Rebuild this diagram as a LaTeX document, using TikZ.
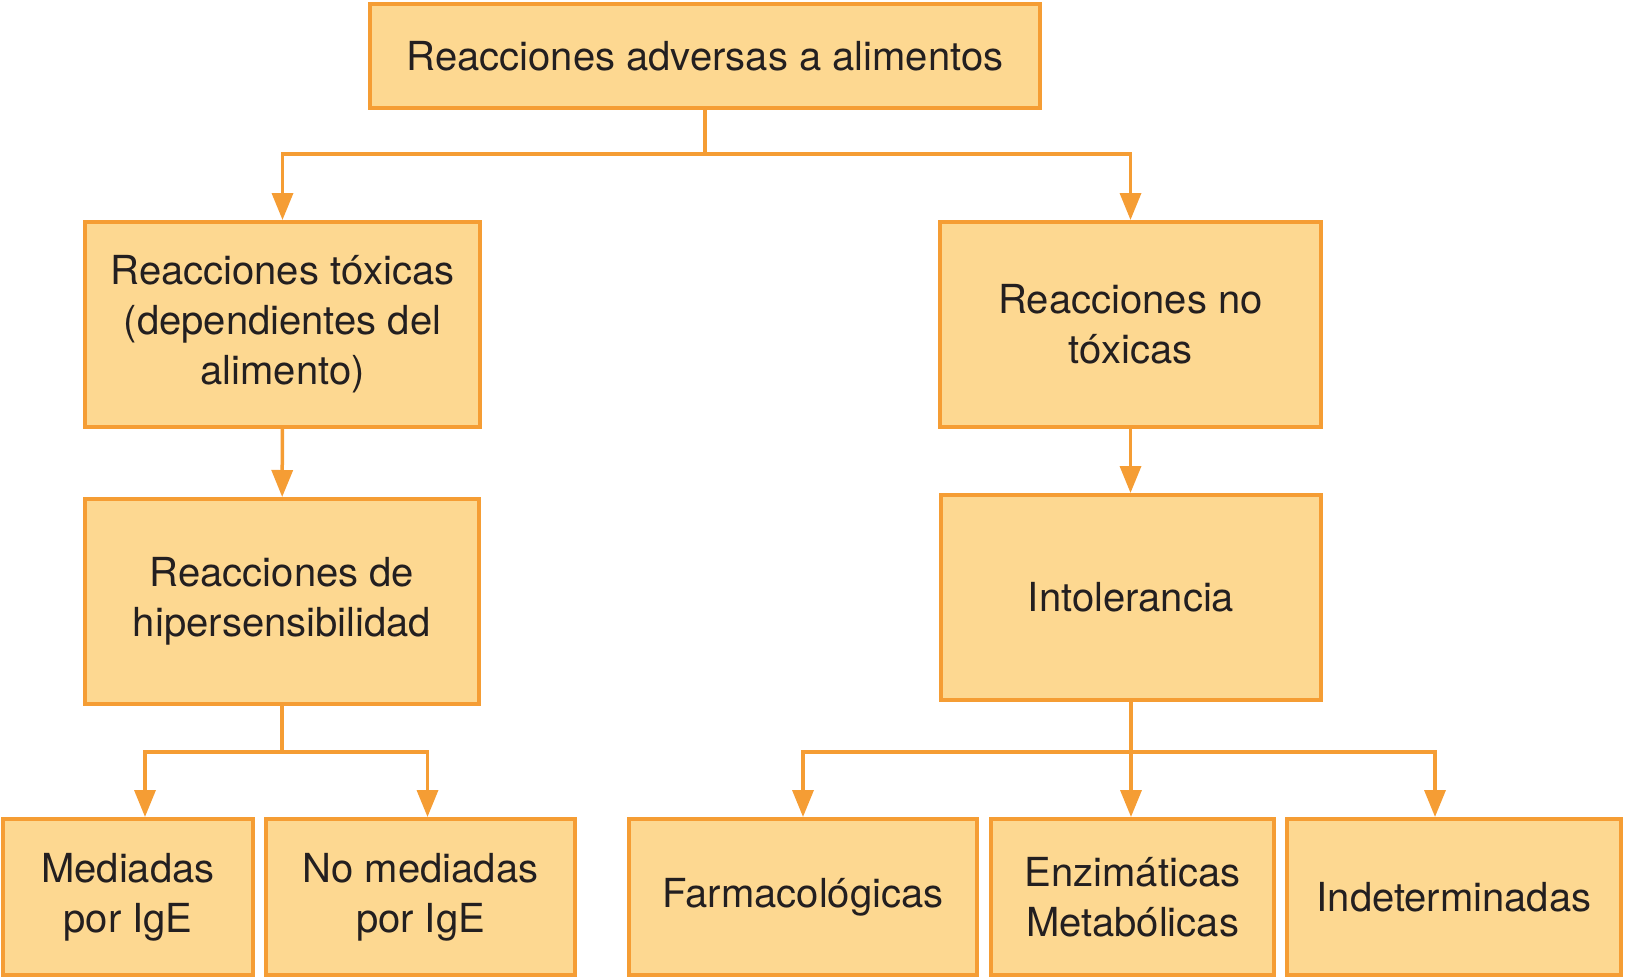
\documentclass[tikz,border=0pt]{standalone}
\usepackage{fontspec}
\setmainfont{TeX Gyre Heros}
\usetikzlibrary{arrows.meta}
\definecolor{naranja}{HTML}{F59D34}
\definecolor{crema}{HTML}{FDD891}
\definecolor{texto}{HTML}{231F20}
\begin{document}
\begin{tikzpicture}[x=1pt, y=-1pt,
  caja/.style={draw=naranja, fill=crema, line width=4pt, align=center, inner sep=0pt,
    text=texto, font=\fontsize{40}{50}\selectfont},
  fila/.style={caja, minimum height=156pt},
  flecha/.style={draw=naranja, line width=3.5pt, -{Triangle[length=27pt,width=21pt]}}]
\useasboundingbox (0,0) rectangle (1625,979);
\node[caja, minimum width=670pt, minimum height=104pt] (raiz) at (705,56)
{Reacciones adversas a alimentos};
\node[caja, minimum width=395pt, minimum height=205pt] (toxicas) at (282.5,324.5)
{Reacciones tóxicas\\(dependientes del\\alimento)};
\node[caja, minimum width=381pt, minimum height=205pt] (notox) at (1130.5,324.5)
{Reacciones no\\tóxicas};
\node[caja, minimum width=394pt, minimum height=205pt] (hiper) at (282,601.5)
{Reacciones de\\hipersensibilidad};
\node[caja, minimum width=380pt, minimum height=205pt] (intol) at (1131,597.5)
{Intolerancia};
\node[fila, minimum width=250pt] (med) at (128,897) {Mediadas\\por IgE};
\node[fila, minimum width=309pt] (nomed) at (420.5,897) {No mediadas\\por IgE};
\node[fila, minimum width=348pt] (farma) at (803,897) {Farmacológicas};
\node[fila, minimum width=283pt] (enz) at (1132.5,897) {Enzimáticas\\Metabólicas};
\node[fila, minimum width=334pt] (indet) at (1454,897) {Indeterminadas};
\coordinate (b1) at (705,154);
\coordinate (b3) at (282,752);
\coordinate (b4) at (1131,752);
\draw[flecha] (raiz.south) -- (b1) -| (toxicas.north);
\draw[flecha] (b1) -| (notox.north);
\draw[flecha] (toxicas) -- (hiper);
\draw[flecha] (notox.south) -- (notox.south |- intol.north);
\draw[flecha] (hiper.south) -- (b3) -| ([xshift=17pt]med.north);
\draw[flecha] (b3) -| ([xshift=7pt]nomed.north);
\draw[flecha] (intol.south) -- (b4) -| (farma.north);
\draw[flecha] (b4) -- (b4 |- enz.north);
\draw[flecha] (b4) -| ([xshift=-19pt]indet.north);
\end{tikzpicture}
\end{document}
